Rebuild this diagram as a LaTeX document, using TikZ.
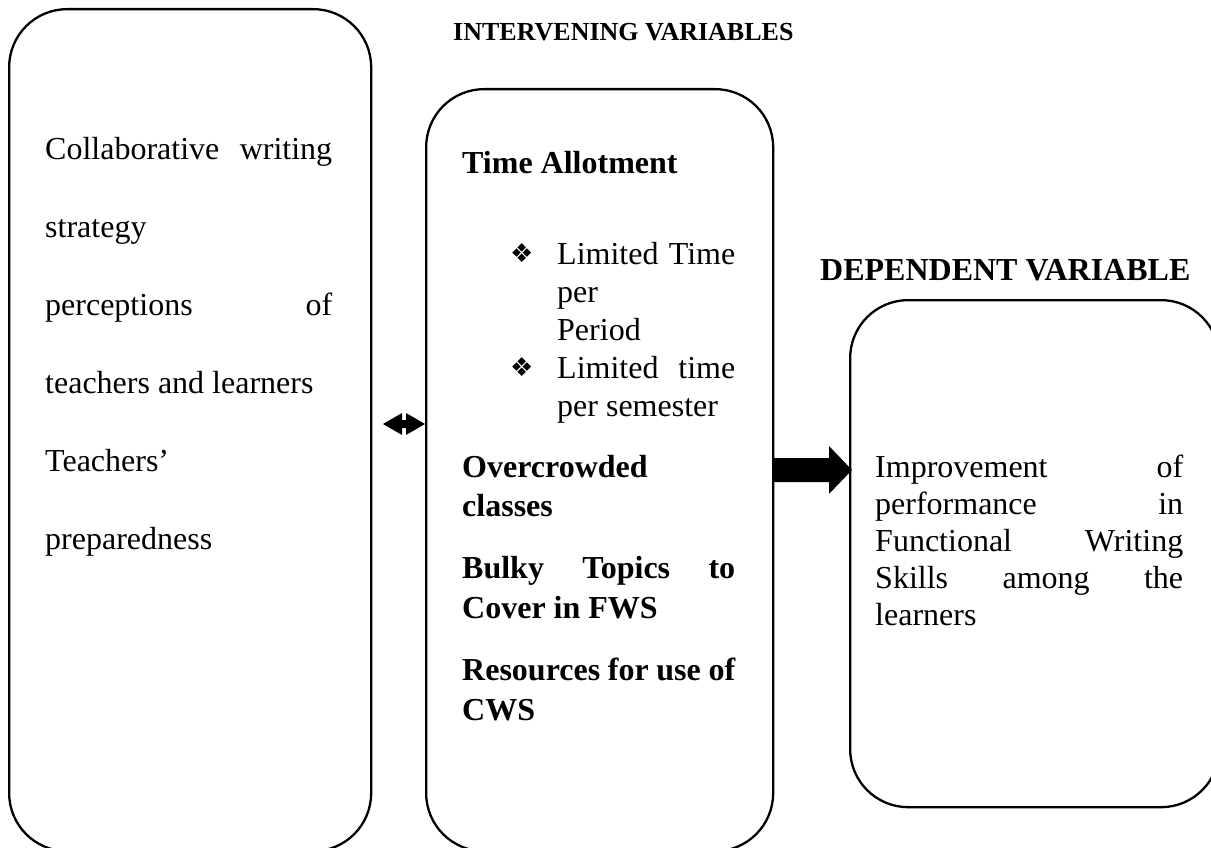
\documentclass[tikz,border=0pt]{standalone}
\usepackage{fontspec}
\setmainfont{Liberation Serif}
\newfontfamily\dingfont{DejaVu Sans}
\usetikzlibrary{positioning}

\newcommand{\spreadline}[2]{\hbox to #1{#2}}

\begin{document}
\begin{tikzpicture}[x=1pt, y=-1pt,
    varbox/.style={draw, line width=2.3pt, rounded corners=58pt, anchor=north west},
    txt/.style={anchor=base west, inner sep=0pt, font=\fontsize{32}{38}\selectfont},
    head/.style={txt, font=\fontsize{32}{38}\selectfont\bfseries},
    bul/.style={anchor=base west, inner sep=0pt, font=\dingfont\fontsize{26}{30}\selectfont}
]
\useasboundingbox (0,0) rectangle (1211,848);

% boxes
\node[varbox, minimum width=362pt, minimum height=842pt] (indep) at (8,8) {};
\node[varbox, minimum width=347pt, minimum height=762pt] (interv) at (425,88) {};
\node[varbox, minimum width=369pt, minimum height=507pt] (dep) at (849,299) {};

% headings
\node[head, font=\fontsize{26}{30}\selectfont\bfseries] (hinterv) at (453,41) {INTERVENING VARIABLES};
\node[head] (hdep) at (820,280) {DEPENDENT VARIABLE};

% independent variables
\node[txt] (i1) at (45,160) {\spreadline{287pt}{Collaborative\hfill writing}};
\node[txt] (i2) at (45,237) {strategy};
\node[txt] (i3) at (45,315) {\spreadline{287pt}{perceptions\hfill of}};
\node[txt] (i4) at (45,393) {teachers and learners};
\node[txt] (i5) at (45,471) {Teachers'};
\node[txt] (i6) at (45,549) {preparedness};

% intervening variables
\node[head] (t1) at (462,174) {Time Allotment};
\node[bul] (b1) at (510,262) {❖};
\node[txt] (t2) at (557,264) {\spreadline{178pt}{Limited\hfill Time}};
\node[txt] (t3) at (557,302) {per};
\node[txt] (t4) at (557,340) {Period};
\node[bul] (b2) at (510,376) {❖};
\node[txt] (t5) at (557,378) {\spreadline{178pt}{Limited\hfill time}};
\node[txt] (t6) at (557,416) {per semester};
\node[head] (t7) at (462,477) {Overcrowded};
\node[head] (t8) at (462,516) {classes};
\node[head] (t9) at (462,578) {\spreadline{273pt}{Bulky\hfill Topics\hfill to}};
\node[head] (t10) at (462,618) {Cover in FWS};
\node[head] (t11) at (462,680) {\spreadline{273pt}{Resources\hfill for\hfill use\hfill of}};
\node[head] (t12) at (462,720) {CWS};

% dependent variable
\node[txt] (d1) at (875,477) {\spreadline{308pt}{Improvement\hfill of}};
\node[txt] (d2) at (875,514) {\spreadline{308pt}{performance\hfill in}};
\node[txt] (d3) at (875,551) {\spreadline{308pt}{Functional\hfill Writing}};
\node[txt] (d4) at (875,588) {\spreadline{308pt}{Skills\hfill among\hfill the}};
\node[txt] (d5) at (875,625) {learners};

% arrows
\coordinate (da) at (383,424);
\fill (da) -- ++(19,-11) -- ++(0,7) -- ++(4,0) -- ++(0,-7) -- ++(19,11)
  -- ++(-19,11) -- ++(0,-7) -- ++(-4,0) -- ++(0,7) -- cycle;
\coordinate (ra) at (772,470);
\fill (ra) ++(0,-12) -- ++(57,0) -- ++(0,-12) -- ++(23,24) -- ++(-23,24)
  -- ++(0,-12) -- ++(-57,0) -- cycle;

\end{tikzpicture}
\end{document}
